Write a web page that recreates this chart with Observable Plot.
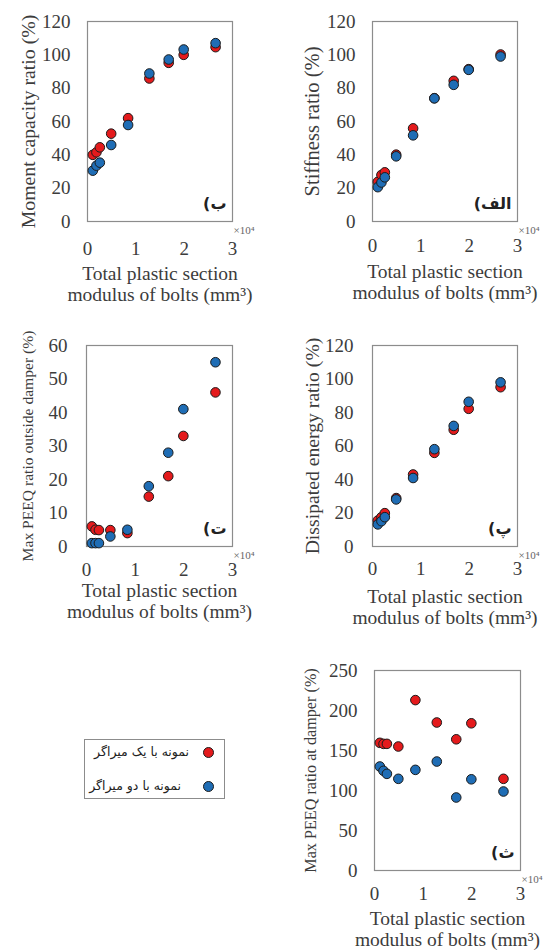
<!DOCTYPE html>
<html>
<head>
<meta charset="utf-8">
<script src="https://cdn.jsdelivr.net/npm/d3@7"></script>
<script src="https://cdn.jsdelivr.net/npm/@observablehq/plot@0.6"></script>
<style>
  body { margin: 0; background: #fff; }
  #root { position: relative; width: 550px; height: 951px; background: #fff; overflow: hidden; }
  #root svg { font-family: "Liberation Serif", "Times New Roman", serif; }
  .cell { position: absolute; }
  .legend { position: absolute; left: 84px; top: 739px; width: 139px; height: 58px; border: 1px solid #8c8c8c; box-sizing: content-box; }
  .legend .row { position: absolute; left: 0; width: 139px; height: 20px; }
  .legend .lbl { position: absolute; right: 35px; top: 0; font-family: "DejaVu Sans", sans-serif; font-size: 12.5px; line-height: 20px; color: #222; direction: rtl; white-space: nowrap; }
  .legend .dot { position: absolute; right: 10px; top: 5px; width: 9px; height: 9px; border-radius: 50%; border: 1px solid #1b1b1b; }
</style>
</head>
<body>
<div id="root"></div>
<script>
// ---- data ----
const boltModulus = [1100, 1850, 2550, 4900, 8400, 12800, 16800, 19900, 26500]; // mm^3
const seriesNames = ["نمونه با یک میراگر", "نمونه با دو میراگر"];
const seriesColors = ["#e41a1c", "#1f6db5"];

const momentOne = [40, 41.5, 44.5, 52.7, 62, 85.8, 95.2, 100, 104.6];
const momentTwo = [30.5, 33.5, 35.3, 45.9, 57.9, 88.8, 97.2, 103.2, 107];
const stiffOne = [23.8, 27.9, 29.5, 40.1, 55.9, 74, 84.4, 91.4, 100.2];
const stiffTwo = [20.6, 23.4, 26.5, 39.1, 51.7, 73.9, 82, 91, 99];
const peeqOutOne = [6, 5, 4.9, 4.9, 4, 14.9, 21, 33, 46];
const peeqOutTwo = [1, 1, 1, 3, 5, 18, 28, 41, 55];
const energyOne = [15.5, 17.5, 19.9, 28.9, 43, 55.9, 69.7, 82.2, 95.1];
const energyTwo = [13.2, 15.1, 17.5, 28.1, 40.9, 58.1, 72, 86.4, 98];
const peeqDampOne = [159.6, 158.3, 158.3, 155, 213, 185, 164, 184, 114.6];
const peeqDampTwo = [130, 124.6, 120.8, 114.6, 125.8, 136.2, 91.25, 114, 98.75];

const xTicks = [0, 10000, 20000, 30000];
const xLabel = "Total plastic section\nmodulus of bolts (mm³)";

const serif = '"Liberation Serif", "Times New Roman", serif';
const ink = "#3c3c3c";

function rows(one, two) {
  const r = [];
  boltModulus.forEach((x, i) => r.push({x, y: one[i], s: seriesNames[0]}));
  boltModulus.forEach((x, i) => r.push({x, y: two[i], s: seriesNames[1]}));
  return r;
}

function panel(o) {
  const data = rows(o.one, o.two);
  const chart = Plot.plot({
    width: 275,
    height: o.height,
    marginLeft: o.mL, marginRight: o.mR, marginTop: o.mT, marginBottom: o.mB,
    style: {fontSize: "18px", color: ink, background: "transparent", overflow: "visible"},
    x: {domain: [0, 30000], label: null},
    y: {domain: o.yDomain, label: null},
    color: {domain: seriesNames, range: seriesColors},
    marks: [
      Plot.frame({stroke: "#8c8c8c", strokeWidth: 1.2}),
      Plot.axisX({ticks: xTicks, tickSize: 0, tickPadding: o.xPad, tickFormat: d => d / 1e4, fontSize: 19, fontFamily: serif, label: null}),
      Plot.axisY({ticks: o.yTicks, tickSize: 0, tickPadding: o.yPad, fontSize: 19, fontFamily: serif, label: null}),
      Plot.dot(data, {x: "x", y: "y", fill: "s", r: 4.8, stroke: "#1b1b1b", strokeWidth: 1}),
      Plot.text([o.letter + "\u200F"], {frameAnchor: "bottom-right", dx: -6, dy: -18, textAnchor: "end", lineAnchor: "middle", fontFamily: '"DejaVu Sans", sans-serif', fontWeight: "bold", fontSize: 16, fill: "#222"}),
      Plot.text(["×10⁴"], {frameAnchor: "bottom-right", dx: 1, dy: 9, textAnchor: "start", lineAnchor: "middle", fontSize: 11, fontFamily: serif, fill: "#666"}),
      Plot.text([xLabel], {frameAnchor: "bottom", dy: o.xLabelDy, lineAnchor: "middle", lineHeight: 1.1, fontSize: 19.5, fontFamily: serif, fill: ink}),
      Plot.text([o.yLabel], {frameAnchor: "left", dx: o.yLabelDx, rotate: -90, textAnchor: "middle", lineAnchor: "middle", fontSize: o.yFont, fontFamily: serif, fill: ink})
    ]
  });
  const cell = document.createElement("div");
  cell.className = "cell";
  cell.style.left = o.left + "px";
  cell.style.top = o.top + "px";
  cell.appendChild(chart);
  document.getElementById("root").appendChild(cell);
}

panel({left: 0, top: 0, height: 310, mL: 87, mR: 43, mT: 21, mB: 89,
  one: momentOne, two: momentTwo, yDomain: [0, 120], yTicks: d3.range(0, 121, 20),
  yLabel: "Moment capacity ratio (%)", yFont: 19.8, yLabelDx: -59, letter: "ب)",
  xPad: 20, yPad: 17, xLabelDy: 62});

panel({left: 275, top: 0, height: 310, mL: 97, mR: 33, mT: 21, mB: 89,
  one: stiffOne, two: stiffTwo, yDomain: [0, 120], yTicks: d3.range(0, 121, 20),
  yLabel: "Stiffness ratio (%)", yFont: 20.5, yLabelDx: -60, letter: "الف)",
  xPad: 17, yPad: 17, xLabelDy: 60});

panel({left: 0, top: 310, height: 320, mL: 86, mR: 43, mT: 35, mB: 84,
  one: peeqOutOne, two: peeqOutTwo, yDomain: [0, 60], yTicks: d3.range(0, 61, 10),
  yLabel: "Max PEEQ ratio outside damper (%)", yFont: 15.6, yLabelDx: -59, letter: "ت)",
  xPad: 16, yPad: 19, xLabelDy: 54});

panel({left: 275, top: 310, height: 320, mL: 97, mR: 33, mT: 35, mB: 84,
  one: energyOne, two: energyTwo, yDomain: [0, 120], yTicks: d3.range(0, 121, 20),
  yLabel: "Dissipated energy ratio (%)", yFont: 19.7, yLabelDx: -60, letter: "پ)",
  xPad: 15, yPad: 19, xLabelDy: 60});

panel({left: 275, top: 630, height: 321, mL: 99, mR: 30, mT: 40, mB: 81,
  one: peeqDampOne, two: peeqDampTwo, yDomain: [0, 250], yTicks: d3.range(0, 251, 50),
  yLabel: "Max PEEQ ratio at damper (%)", yFont: 16.2, yLabelDx: -64, letter: "ث)",
  xPad: 16, yPad: 17, xLabelDy: 58});

// legend
const legend = document.createElement("div");
legend.className = "legend";
seriesNames.forEach((name, i) => {
  const row = document.createElement("div");
  row.className = "row";
  row.style.top = (i === 0 ? 2 : 36) + "px";
  const lbl = document.createElement("span");
  lbl.className = "lbl";
  lbl.textContent = name;
  if (i === 1) lbl.style.right = "43px";
  const dot = document.createElement("span");
  dot.className = "dot";
  dot.style.background = seriesColors[i];
  row.appendChild(lbl);
  row.appendChild(dot);
  legend.appendChild(row);
});
document.getElementById("root").appendChild(legend);
</script>
</body>
</html>
